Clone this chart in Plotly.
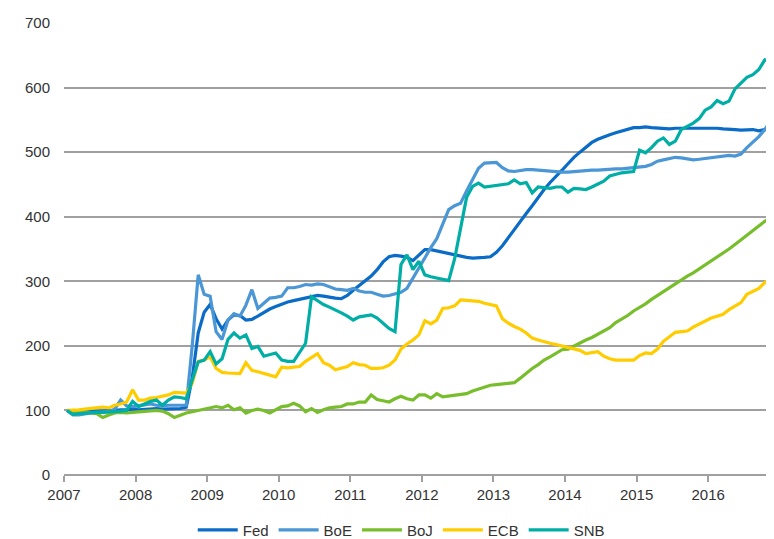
import plotly.graph_objects as go

years = list(range(2007, 2017))
x_ticks = years
tick_labels = [str(y) for y in years]

fed = [100, 97, 97, 98, 98, 99, 99, 100, 100, 101, 101, 102,
       101, 102, 102, 103, 102, 102, 103, 103, 105, 150, 220, 252,
       264, 242, 226, 240, 248, 247, 240, 241, 246, 252, 257, 261,
       265, 268, 270, 272, 275, 277, 278, 277, 275, 274, 273, 278,
       286, 293, 300, 308, 318, 330, 338, 340, 339, 337, 332, 340,
       349, 349, 347, 344, 342, 340, 339, 337, 336, 336, 337, 338,
       345, 355, 367, 380, 393, 405, 417, 430, 442, 453, 462, 472,
       482, 492, 500, 508, 515, 520, 524, 527, 530, 533, 536, 538,
       538, 539, 538, 537, 536, 536, 537, 537, 537, 538, 538, 537,
       537, 537, 536, 536, 535, 534, 535, 535, 533, 535, 534, 534]

boe = [100, 93, 93, 95, 96, 97, 97, 98, 102, 116, 107, 106,
       107, 109, 110, 108, 107, 108, 108, 107, 108, 200, 310, 280,
       277, 222, 210, 240, 250, 246, 263, 287, 258, 266, 274, 275,
       277, 290, 290, 292, 295, 294, 296, 295, 292, 288, 287, 286,
       289, 285, 283, 283, 280, 277, 278, 281, 283, 289, 305, 322,
       338, 352, 366, 390, 411, 417, 421, 440, 458, 475, 483, 483,
       484, 476, 471, 470, 472, 473, 473, 472, 472, 471, 470, 469,
       469, 470, 471, 471, 472, 472, 473, 473, 474, 474, 475, 475,
       476, 478, 481, 486, 488, 490, 492, 491, 489, 488, 489, 490,
       491, 492, 494, 495, 494, 497, 507, 515, 524, 535, 548, 563]

boj = [100, 97, 99, 97, 96, 95, 89, 93, 96, 97, 96, 97,
       98, 99, 100, 100, 99, 95, 89, 93, 96, 98, 100, 102,
       105, 106, 104, 108, 101, 104, 96, 100, 102, 100, 96, 101,
       106, 107, 111, 107, 98, 103, 97, 101, 104, 105, 106, 110,
       110, 113, 113, 124, 117, 115, 113, 118, 122, 118, 116, 124,
       124, 119, 126, 121, 122, 123, 125, 126, 130, 133, 136, 139,
       140, 141, 142, 143, 150, 158, 165, 171, 178, 183, 188, 194,
       195, 200, 205, 209, 213, 218, 222, 228, 236, 241, 247, 254,
       259, 265, 272, 278, 284, 291, 297, 302, 308, 313, 319, 326,
       331, 337, 344, 350, 357, 364, 371, 378, 386, 393, 398, 404]

ecb = [100, 100, 101, 102, 103, 104, 105, 104, 108, 110, 113, 132,
       116, 116, 119, 120, 122, 124, 128, 127, 127, 142, 176, 178,
       183, 165, 159, 158, 157, 157, 174, 162, 160, 157, 155, 152,
       167, 166, 167, 168, 176, 182, 188, 174, 170, 163, 166, 168,
       174, 171, 170, 165, 165, 166, 170, 178, 195, 203, 209, 217,
       239, 234, 240, 258, 259, 262, 271, 270, 270, 269, 266, 264,
       262, 242, 235, 230, 226, 220, 212, 209, 206, 204, 202, 200,
       198, 196, 193, 188, 190, 191, 184, 180, 178, 178, 178, 178,
       185, 189, 188, 195, 207, 214, 221, 222, 223, 229, 234, 238,
       243, 246, 249, 256, 261, 267, 280, 284, 289, 298, 305, 310]

snb = [100, 94, 95, 96, 96, 97, 97, 97, 98, 99, 100, 114,
       106, 110, 114, 116, 108, 116, 121, 120, 118, 147, 175, 178,
       191, 172, 180, 210, 220, 212, 217, 196, 199, 184, 186, 189,
       178, 176, 176, 189, 204, 276, 270, 264, 260, 256, 251, 246,
       240, 245, 246, 248, 243, 235, 227, 222, 326, 341, 318, 331,
       310, 307, 305, 302, 301, 335, 385, 430, 447, 452, 446, 447,
       448, 450, 451, 457, 451, 453, 437, 446, 445, 444, 446, 446,
       438, 444, 443, 442, 446, 450, 455, 463, 466, 468, 469, 470,
       503, 499, 507, 517, 522, 512, 517, 535, 540, 545, 552, 565,
       570, 580, 575, 579, 598, 607, 616, 620, 628, 643, 641, 638]

x = [y + (m - 0.5) / 12 for y in years for m in range(1, 13)]

series = [("Fed", fed, "#0B6CC7"), ("BoE", boe, "#4B97D6"),
          ("BoJ", boj, "#78BE2C"), ("ECB", ecb, "#FFCC00"),
          ("SNB", snb, "#00AEA6")]

fig = go.Figure()
for name, vals, col in series:
    fig.add_trace(go.Scatter(x=x, y=vals, name=name, mode="lines",
                             line=dict(color=col, width=3.2)))

# page body has an 8px default margin, so the figure is sized to fill the rest
fig.update_layout(
    width=766, height=531,
    margin=dict(l=56, r=0, t=15, b=64, autoexpand=False),
    paper_bgcolor="white", plot_bgcolor="white",
    font=dict(family="Liberation Sans, Arial, sans-serif", size=15, color="#333333"),
    showlegend=True,
    legend=dict(orientation="h", x=0.475, xanchor="center", y=-0.122, yanchor="middle",
                font=dict(size=15, color="#333333"), itemwidth=40, tracegroupgap=0),
    xaxis=dict(range=[2007, 2016.92], tickmode="array", tickvals=x_ticks, ticktext=tick_labels,
               showgrid=False, zeroline=False, showline=False, automargin=False,
               ticks="outside", ticklen=6, tickwidth=1.5, tickcolor="#A0A0A0"),
    yaxis=dict(range=[0, 700], dtick=100, showgrid=True, gridcolor="#A0A0A0", gridwidth=1.6,
               zeroline=True, zerolinecolor="#A0A0A0", zerolinewidth=1.6, automargin=False,
               showline=False, ticks="outside", ticklen=10, tickcolor="rgba(0,0,0,0)"),
)

fig.write_html("out.html")
